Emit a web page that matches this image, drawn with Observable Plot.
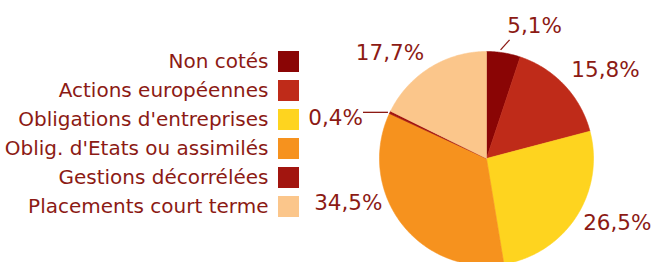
<!DOCTYPE html>
<html>
<head>
<meta charset="utf-8">
<script src="https://cdn.jsdelivr.net/npm/d3@7"></script>
<script src="https://cdn.jsdelivr.net/npm/@observablehq/plot@0.6"></script>
<style>
  html, body { margin: 0; padding: 0; background: #fff; }
  #chart svg { display: block; }
</style>
</head>
<body>
<div id="chart"></div>
<script>
// ---- data ----
const categories = ["Non cotés", "Actions européennes", "Obligations d'entreprises", "Oblig. d'Etats ou assimilés", "Gestions décorrélées", "Placements court terme"];
const values = [5.1, 15.8, 26.5, 34.5, 0.4, 17.7];
const valueLabels = ["5,1%", "15,8%", "26,5%", "34,5%", "0,4%", "17,7%"];
const colors = ["#8a0505", "#bf2b19", "#fed41f", "#f6921e", "#a2150f", "#fbc68b"];

// ---- layout (styles / geometry) ----
const W = 655, H = 262;
const cx = 486, cy = 158, R = 107;
const textColor = "#8c1a14";
const font = "'DejaVu Sans', sans-serif";
// label nudges relative to the arc mid-point of each slice
const labelNudge = [[31, -27], [41, -15], [41, 6], [-53, -20], [-27, 6], [-40, -15]];
const labelAnchor = ["middle", "middle", "middle", "middle", "end", "middle"];
// leader line offsets (start, end) relative to arc mid-point, for small slices
const leaderNudge = {0: [[-3, -3], [6, -13]], 4: [[-2, 0], [-27, 0]]};

const arcs = d3.pie().sort(null).value(d => d)(values);
const pt = (a, r) => [cx + r * Math.sin(a), cy - r * Math.cos(a)];

// slice polygons
const slicePts = [];
arcs.forEach((a, i) => {
  slicePts.push({i, x: cx, y: cy});
  const n = Math.max(2, Math.ceil((a.endAngle - a.startAngle) / (Math.PI / 360)));
  for (let k = 0; k <= n; k++) {
    const t = a.startAngle + (a.endAngle - a.startAngle) * k / n;
    const [x, y] = pt(t, R);
    slicePts.push({i, x, y});
  }
  slicePts.push({i, x: cx, y: cy});
});

const mids = arcs.map((a, i) => {
  const m = (a.startAngle + a.endAngle) / 2;
  const [x, y] = pt(m, R);
  return {i, x, y};
});

const labelData = mids.map(d => ({
  text: valueLabels[d.i],
  x: d.x + labelNudge[d.i][0],
  y: d.y + labelNudge[d.i][1],
  anchor: labelAnchor[d.i]
}));

const leaders = Object.entries(leaderNudge).map(([i, [s, e]]) => ({
  x1: mids[i].x + s[0], y1: mids[i].y + s[1],
  x2: mids[i].x + e[0], y2: mids[i].y + e[1]
}));

const legend = categories.map((c, i) => ({
  name: c, color: colors[i],
  yc: 61.5 + i * 29
}));

const chart = Plot.plot({
  width: W, height: H,
  margin: 0,
  x: {type: "identity"},
  y: {type: "identity"},
  color: {type: "identity"},
  style: {background: "#fff", fontFamily: font},
  marks: [
    Plot.line(slicePts, {x: "x", y: "y", z: "i", fill: d => colors[d.i], stroke: d => colors[d.i], strokeWidth: 0.6, curve: "linear"}),
    Plot.link(leaders, {x1: "x1", y1: "y1", x2: "x2", y2: "y2", stroke: textColor, strokeWidth: 1.3}),
    Plot.text(labelData.filter(d => d.anchor === "middle"), {x: "x", y: "y", text: "text", fill: textColor, fontSize: 21.5, textAnchor: "middle", lineAnchor: "middle"}),
    Plot.text(labelData.filter(d => d.anchor === "end"), {x: "x", y: "y", text: "text", fill: textColor, fontSize: 21.5, textAnchor: "end", lineAnchor: "middle"}),
    Plot.text(legend, {x: () => 268, y: "yc", text: "name", fill: textColor, fontSize: 20, textAnchor: "end", lineAnchor: "middle"}),
    Plot.rect(legend, {x1: () => 278, x2: () => 299, y1: d => d.yc - 10.5, y2: d => d.yc + 10.5, fill: "color"})
  ]
});
document.getElementById("chart").append(chart);
</script>
</body>
</html>
